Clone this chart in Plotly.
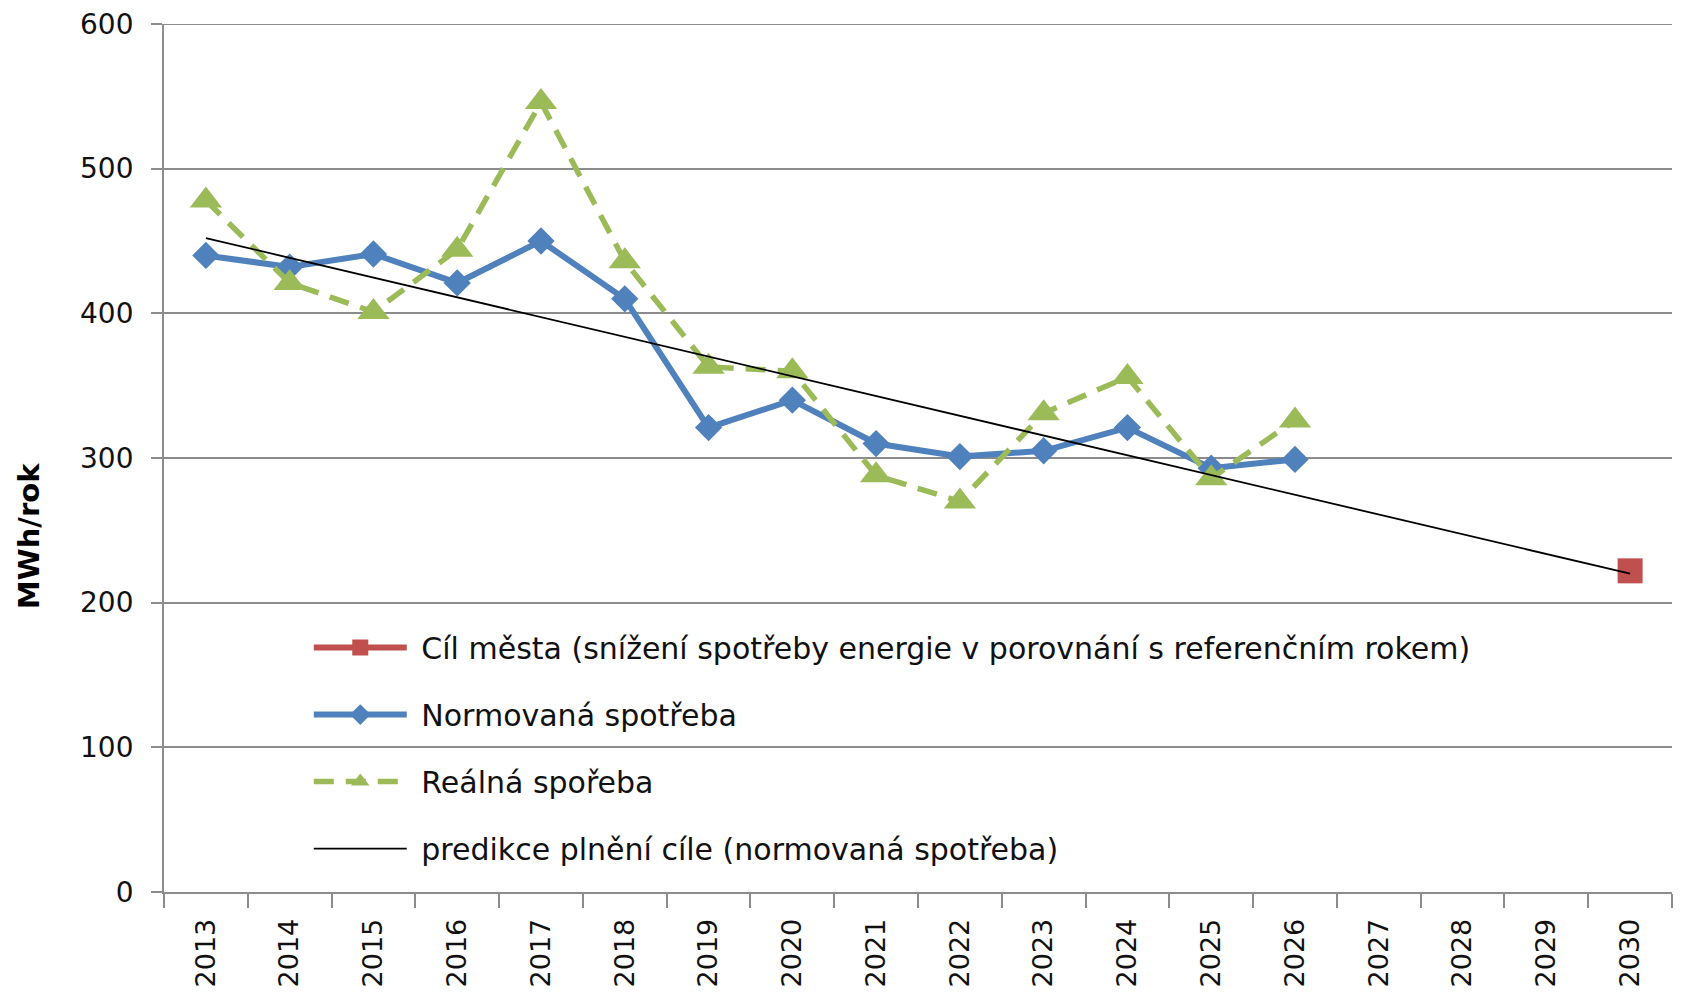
import plotly.graph_objects as go

years = [str(y) for y in range(2013, 2031)]
normovana = [440, 432, 441, 421, 450, 410, 321, 340, 310, 301, 305, 321, 293, 299,
             None, None, None, None]
realna = [478, 421, 401, 444, 546, 436, 363, 360, 288, 270, 331, 356, 286, 326,
          None, None, None, None]
cil_years = ["2030"]
cil_values = [222]
predikce_years = ["2013", "2030"]
predikce_values = [452, 220]
y_ticks = [0, 100, 200, 300, 400, 500, 600]

FONT = "DejaVu Sans"
BLUE = "#4F81BD"
GREEN = "#9BBB59"
RED = "#C0504D"
GRID = "#8C8C8C"
NB = "\u00a0"

fig = go.Figure()
fig.add_trace(go.Scatter(
    x=cil_years, y=cil_values, mode="lines+markers",
    name=NB + "Cíl města (snížení spotřeby energie v porovnání s referenčním rokem)",
    line=dict(color=RED, width=6),
    marker=dict(symbol="square", size=25, color=RED),
    legendgroup="a", legendrank=1))
fig.add_trace(go.Scatter(
    x=years, y=normovana, mode="lines+markers", name=NB + "Normovaná spotřeba",
    line=dict(color=BLUE, width=6),
    marker=dict(symbol="diamond", size=21, color=BLUE),
    legendgroup="b", legendrank=2))
fig.add_trace(go.Scatter(
    x=years, y=realna, mode="lines+markers", name=NB + "Reálná spořeba",
    line=dict(color=GREEN, width=5.5, dash="20px,12px"),
    marker=dict(symbol="triangle-up", size=28, color=GREEN),
    legendgroup="c", legendrank=3))
fig.add_trace(go.Scatter(
    x=predikce_years, y=predikce_values, mode="lines",
    name=NB + "predikce plnění cíle (normovaná spotřeba)",
    line=dict(color="black", width=1.8),
    legendgroup="d", legendrank=4))

fig.update_layout(
    width=1673, height=993,
    margin=dict(l=156, r=9, t=16, b=109, autoexpand=False),
    paper_bgcolor="white", plot_bgcolor="white",
    font=dict(family=FONT, size=26, color="#111111"),
    showlegend=True,
    legend=dict(x=0.096, y=0.3115, xanchor="left", yanchor="top",
                bgcolor="rgba(255,255,255,0)", tracegroupgap=25,
                font=dict(family=FONT, size=30, color="#111111"),
                itemwidth=93),
    xaxis=dict(type="category", categoryorder="array", categoryarray=years,
               range=[-0.5, 17.5], tickangle=-90, tickson="boundaries",
               ticks="outside", ticklen=14, tickcolor=GRID, tickwidth=1.8,
               ticklabelstandoff=14, automargin=False,
               showline=True, linecolor=GRID, linewidth=1.8,
               showgrid=False, tickfont=dict(family=FONT, size=27, color="#111111")),
    yaxis=dict(range=[0, 600], tickvals=y_ticks,
               ticks="outside", ticklen=11, tickcolor=GRID, tickwidth=1.8,
               ticklabelstandoff=12, ticklabeloverflow="allow", automargin=False,
               showline=True, linecolor=GRID, linewidth=1.8,
               showgrid=True, gridcolor=GRID, gridwidth=1.8,
               zeroline=False,
               tickfont=dict(family=FONT, size=28, color="#111111")),
)
# top gridline (at the last tick value) drawn explicitly so it is never dropped
fig.add_shape(type="line", xref="paper", yref="y", x0=0, x1=1,
              y0=y_ticks[-1], y1=y_ticks[-1], layer="below",
              line=dict(color=GRID, width=1.8))
fig.add_annotation(text="<b>MWh/rok</b>", xref="paper", yref="paper",
                   x=-0.0895, y=0.41, xanchor="center", yanchor="middle",
                   textangle=-90, showarrow=False,
                   font=dict(family=FONT, size=29, color="black"))

fig.write_html("out.html")
